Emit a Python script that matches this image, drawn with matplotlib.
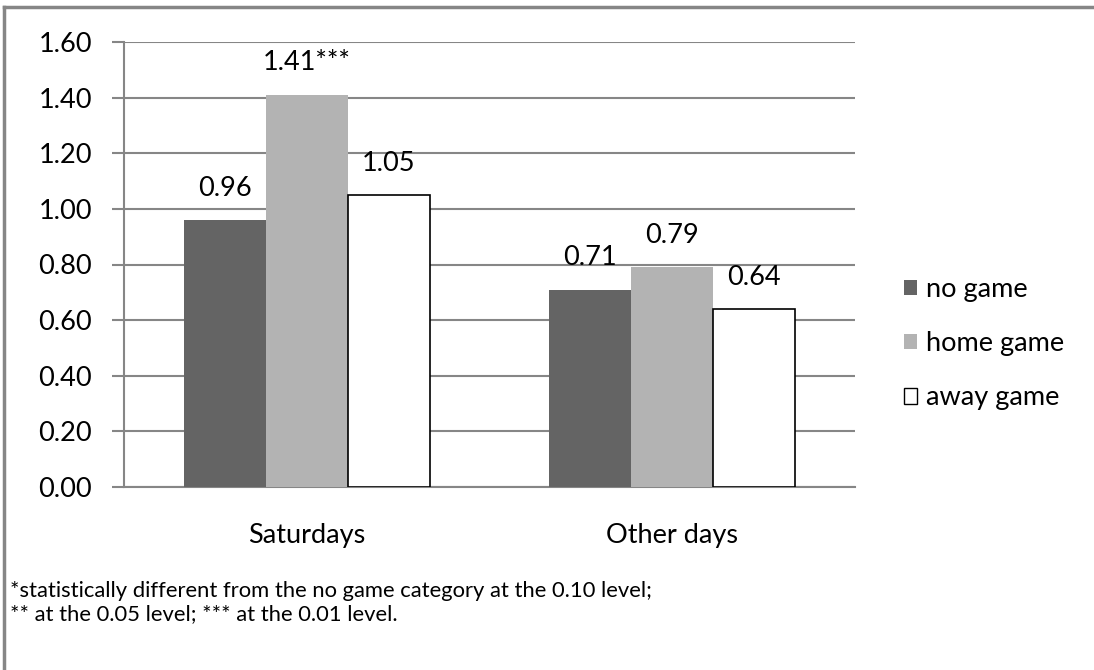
import matplotlib.pyplot as plt
from matplotlib.lines import Line2D
from matplotlib.patches import Patch
import numpy as np

plt.rcParams['font.family'] = ['Lato', 'DejaVu Sans']

categories = ['Saturdays', 'Other days']
series = ['no game', 'home game', 'away game']
no_game = [0.96, 0.71]
home_game = [1.41, 0.79]
away_game = [1.05, 0.64]
labels_no = ['0.96', '0.71']
labels_home = ['1.41***', '0.79']
labels_away = ['1.05', '0.64']
yticks = [0.0, 0.2, 0.4, 0.6, 0.8, 1.0, 1.2, 1.4, 1.6]

colors = ['#646464', '#b3b3b3', 'white']
edges = ['#646464', '#b3b3b3', 'black']

fig = plt.figure(figsize=(10.94, 6.70), dpi=100)
W, H = 1094, 670
# plot area in pixels: x 124..855, y 42..487
ax = fig.add_axes([124 / W, 1 - 487 / H, (855 - 124) / W, (487 - 42) / H])

x = np.arange(len(categories))
w = 0.224
vals = [no_game, home_game, away_game]
labs = [labels_no, labels_home, labels_away]
for i in range(3):
    pos = x + (i - 1) * w
    bars = ax.bar(pos, vals[i], w, color=colors[i], edgecolor=edges[i],
                  linewidth=1.2 if i == 2 else 0, zorder=3)
    for b, t in zip(bars, labs[i]):
        ax.annotate(t, (b.get_x() + b.get_width() / 2, b.get_height()),
                    xytext=(0, 23), textcoords='offset points',
                    ha='center', va='center', fontsize=19.5, zorder=4)

ax.set_xlim(-0.5, 1.5)
ax.set_ylim(0, 1.6)
ax.set_yticks(yticks)
ax.set_yticklabels(['%.2f' % v for v in yticks], fontsize=19.5)
ax.set_xticks(x)
ax.set_xticklabels(categories, fontsize=19.5)
ax.tick_params(axis='x', length=0, pad=26)
ax.tick_params(axis='y', length=9, width=1.5, color='#868686', pad=14)
ax.grid(axis='y', color='#868686', linewidth=1.5, zorder=0)
for s in ['top', 'right']:
    ax.spines[s].set_visible(False)
ax.spines['left'].set_color('#868686')
ax.spines['bottom'].set_color('#868686')
ax.spines['left'].set_linewidth(1.5)
ax.spines['bottom'].set_linewidth(1.5)

handles = [Patch(facecolor=colors[i], edgecolor=edges[i], linewidth=1 if i == 2 else 0)
           for i in range(3)]
fig.legend(handles, series, loc='upper left', bbox_to_anchor=(885 / W, 1 - 258 / H),
           frameon=False, fontsize=19.5, handlelength=0.5, handleheight=0.5,
           handletextpad=0.3, labelspacing=1.08, borderpad=0.2)

# outer frame
fig.add_artist(Line2D([4 / W, 4 / W], [0, 1 - 7 / H], color='#868686', linewidth=2.5))
fig.add_artist(Line2D([4 / W, 1], [1 - 7 / H, 1 - 7 / H], color='#868686', linewidth=2.5))

fig.text(10 / W, 1 - 591 / H, '*statistically different from the no game category at the 0.10 level;',
         fontsize=15.8, va='center')
fig.text(10 / W, 1 - 614 / H, '** at the 0.05 level; *** at the 0.01 level.',
         fontsize=15.8, va='center')

fig.savefig('out.png', dpi=100)
